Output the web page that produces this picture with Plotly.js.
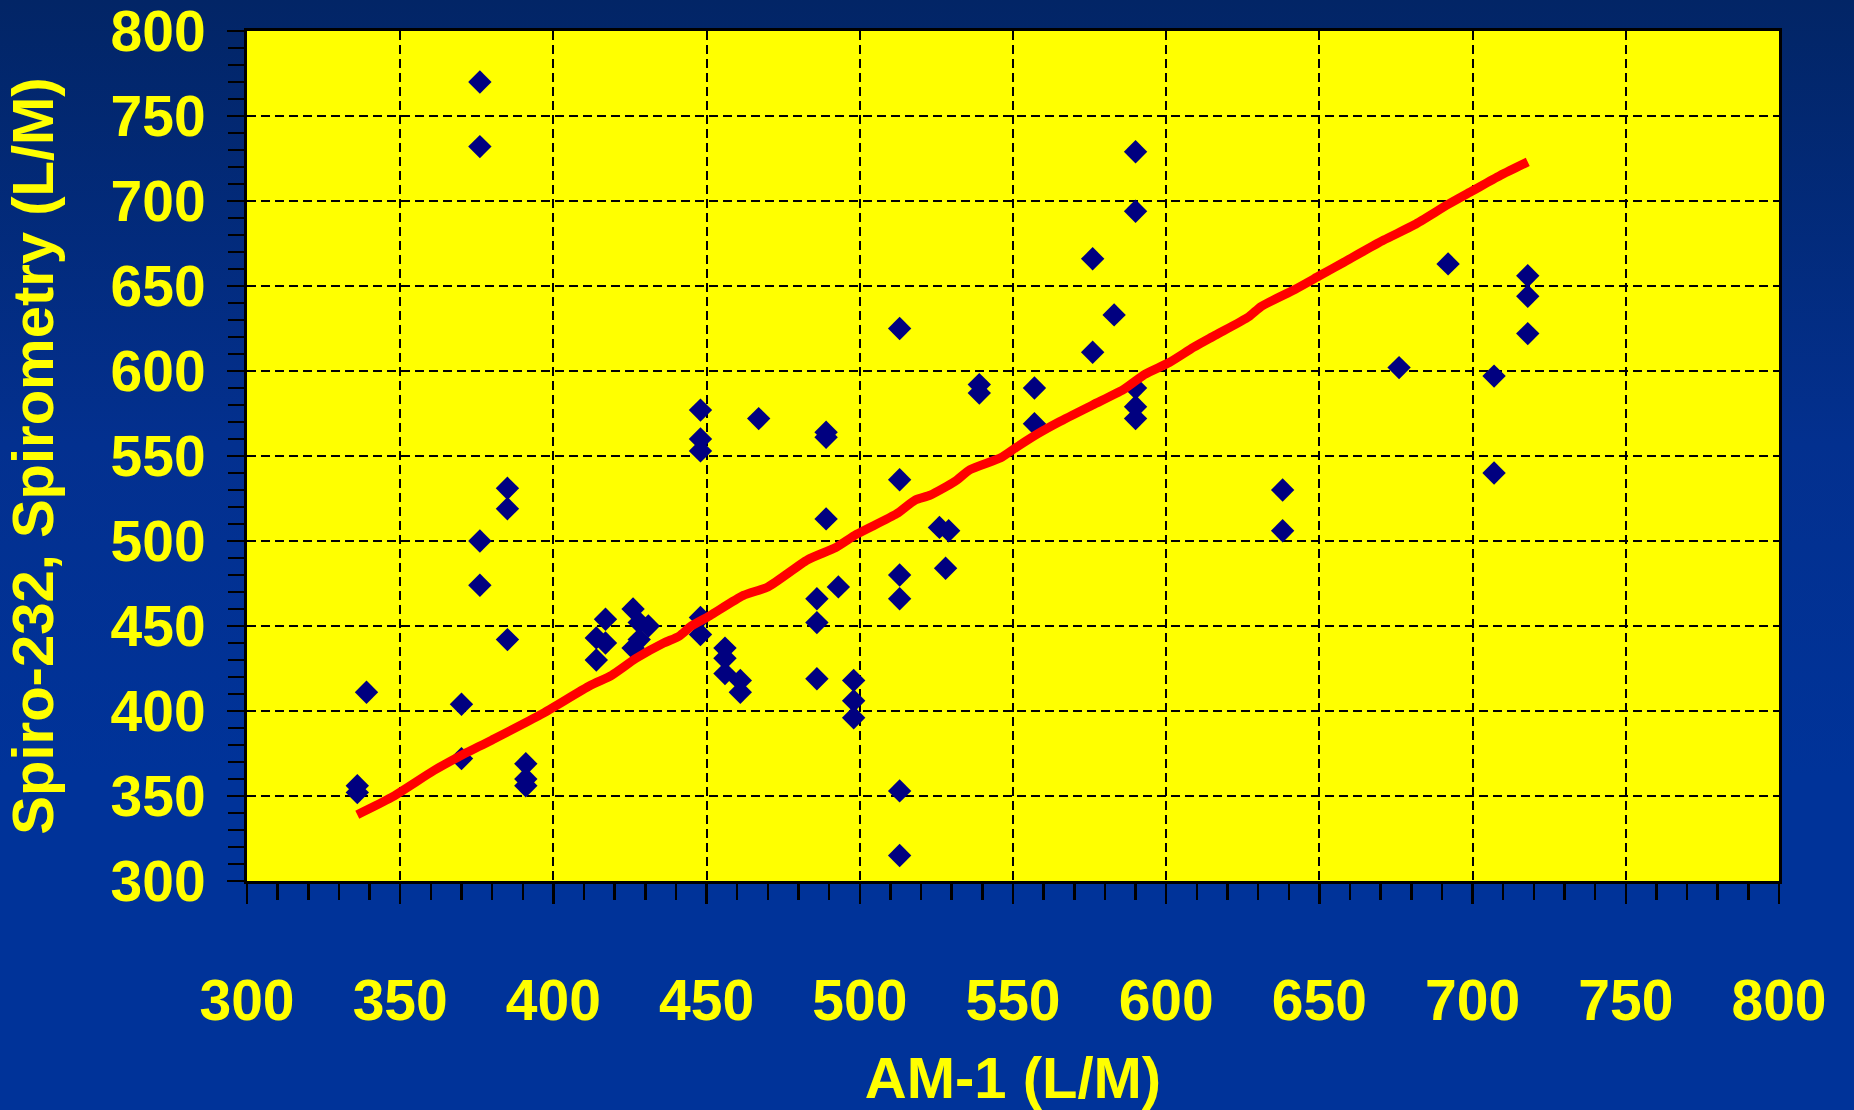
<!DOCTYPE html>
<html>
<head>
<meta charset="utf-8">
<script src="https://cdn.plot.ly/plotly-3.0.1.min.js"></script>
<style>
  html, body { margin: 0; padding: 0; }
  body {
    width: 1854px; height: 1110px; overflow: hidden;
    background: linear-gradient(180deg, #022566 0%, #03308f 40%, #003399 70%, #003399 100%);
  }
  #chart { width: 1854px; height: 1110px; }
</style>
</head>
<body>
<div id="chart"></div>
<script>
// AM-1 peak flow (L/M) vs Spiro-232 spirometry (L/M)
const am1 = [336, 336, 339, 370, 370, 376, 376, 376, 376, 385, 385, 385, 391, 391, 391,
  414, 414, 417, 417, 426, 428, 431, 428, 426, 448, 448, 448, 448, 448, 456, 456, 456, 461, 461,
  467, 486, 486, 486, 489, 489, 489, 493, 498, 498, 498, 513, 513, 513, 513, 513, 513,
  526, 529, 528, 539, 539, 557, 557, 576, 576, 583, 590, 590, 590, 590, 590,
  638, 638, 676, 692, 707, 707, 718, 718, 718];
const spiro = [356, 352, 411, 404, 372, 770, 732, 500, 474, 531, 519, 442, 369, 360, 356,
  443, 430, 454, 440, 460, 452, 450, 442, 437, 577, 560, 553, 455, 445, 437, 431, 422, 418, 411,
  572, 466, 452, 419, 564, 561, 513, 473, 418, 406, 396, 625, 536, 480, 466, 353, 315,
  508, 506, 484, 592, 587, 590, 569, 666, 611, 633, 729, 694, 590, 579, 572,
  530, 506, 602, 663, 597, 540, 656, 644, 622];

// fitted (red) line
const fitX = [336, 347, 361, 369, 380, 396, 412, 419, 427, 436, 441, 445, 451, 462, 470, 483,
  492, 499, 512, 518, 523, 531, 536, 546, 551, 558, 565, 576, 586, 593, 601, 609, 616, 627,
  631, 642, 650, 658, 671, 681, 692, 700, 709, 718];
const fitY = [339, 349, 365, 373, 383, 398, 415, 421, 431, 440, 444, 450, 456, 468, 473, 489,
  496, 504, 516, 524, 527, 535, 542, 549, 555, 563, 570, 580, 589, 598, 605, 614, 621, 632,
  638, 648, 656, 664, 677, 686, 698, 706, 715, 723];

const tickValues = [300, 350, 400, 450, 500, 550, 600, 650, 700, 750, 800];
const tickLabels = ['300', '350', '400', '450', '500', '550', '600', '650', '700', '750', '800'];

const xTitle = 'AM-1 (L/M)';
const yTitle = 'Spiro-232, Spirometry (L/M)';

const FONT = 'Liberation Sans, Arial, Helvetica, sans-serif';
const YELLOW = '#ffff00';

const data = [
  {
    type: 'scatter', mode: 'markers', x: am1, y: spiro,
    marker: { symbol: 'diamond', size: 18, color: '#000080', line: { width: 0 } },
    showlegend: false, hoverinfo: 'x+y'
  },
  {
    type: 'scatter', mode: 'lines', x: fitX, y: fitY,
    line: { color: '#ff0000', width: 9, shape: 'spline', smoothing: 0.6 },
    showlegend: false, hoverinfo: 'skip'
  }
];

const axisCommon = {
  range: [300, 800],
  tickmode: 'array', tickvals: tickValues, ticktext: tickLabels,
  ticks: 'outside', tickcolor: '#000000', tickwidth: 2.5,
  ticklabeloverflow: 'allow',
  showline: true, linecolor: '#000000', linewidth: 3, mirror: true,
  showgrid: true, gridcolor: '#000000', gridwidth: 2, griddash: '9px,5px',
  zeroline: false,
  tickfont: { family: FONT, size: 57, color: YELLOW, weight: 'bold' },
  minor: { tickmode: 'linear', tick0: 300, dtick: 10, ticks: 'outside', ticklen: 16, tickwidth: 2.5, tickcolor: '#000000', showgrid: false }
};

const layout = {
  width: 1854, height: 1110,
  margin: { l: 247, r: 75, t: 31, b: 229 },
  paper_bgcolor: 'rgba(0,0,0,0)',
  plot_bgcolor: YELLOW,
  showlegend: false,
  xaxis: Object.assign({}, axisCommon, {
    ticklen: 20, ticklabelstandoff: 48,
    title: { text: xTitle, standoff: 52, font: { family: FONT, size: 58, color: YELLOW, weight: 'bold' } }
  }),
  yaxis: Object.assign({}, axisCommon, {
    ticklen: 17, ticklabelstandoff: 10,
    title: { text: yTitle, standoff: 49, font: { family: FONT, size: 58, color: YELLOW, weight: 'bold' } }
  })
};

Plotly.newPlot('chart', data, layout, { displayModeBar: false, staticPlot: true });
</script>
</body>
</html>
